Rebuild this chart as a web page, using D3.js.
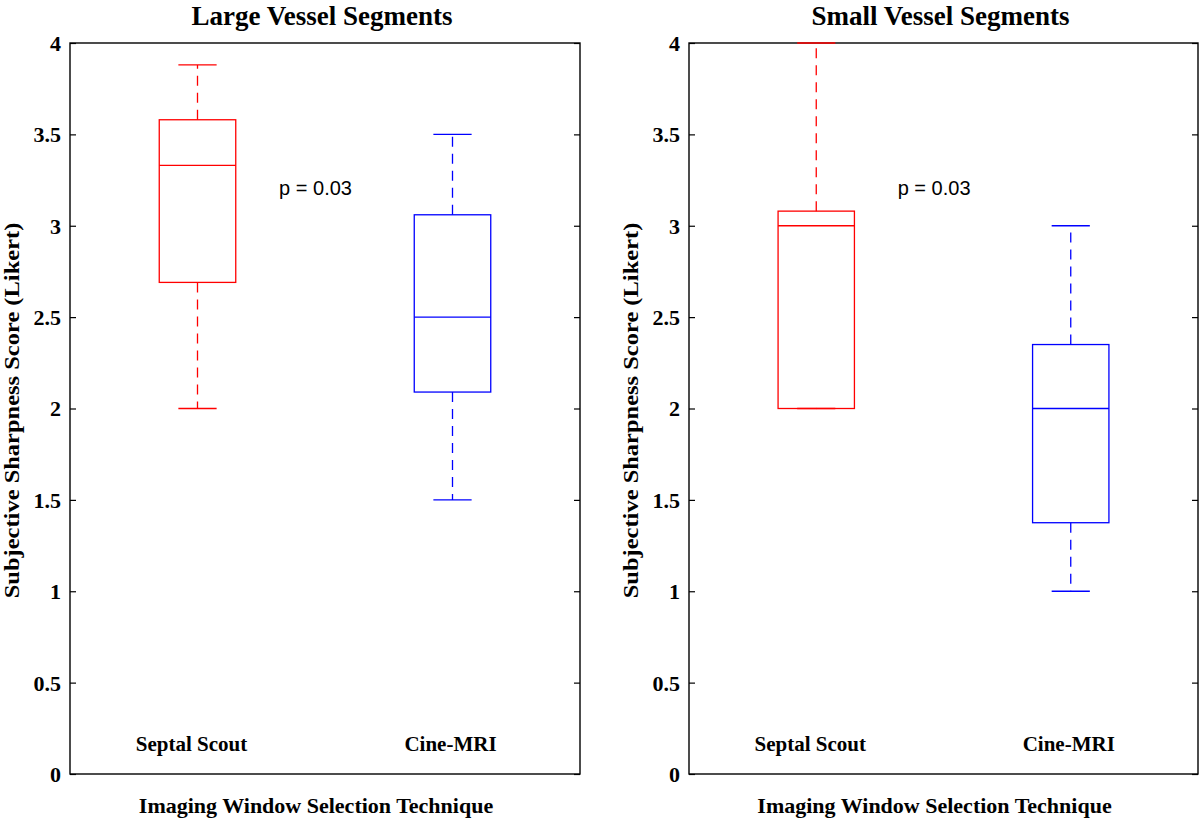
<!DOCTYPE html>
<html>
<head>
<meta charset="utf-8">
<script src="https://cdn.jsdelivr.net/npm/d3@7"></script>
<style>
  html, body { margin: 0; padding: 0; background: #fff; }
  svg { display: block; }
</style>
</head>
<body>
<svg id="chart" width="1200" height="818"></svg>
<script>
// ---- data ----
const panelTitles = ["Large Vessel Segments", "Small Vessel Segments"];
const groups = ["Septal Scout", "Cine-MRI"];
const groupColors = ["#ff0000", "#0000ff"];
// [lower whisker, Q1, median, Q3, upper whisker]
const largeSeptal = [2.0, 2.69, 3.33, 3.58, 3.88];
const largeCine   = [1.5, 2.09, 2.5, 3.06, 3.5];
const smallSeptal = [2.0, 2.0, 3.0, 3.08, 4.0];
const smallCine   = [1.0, 1.375, 2.0, 2.35, 3.0];
const yTickValues = [0, 0.5, 1, 1.5, 2, 2.5, 3, 3.5, 4];
const yTickLabels = ["0", "0.5", "1", "1.5", "2", "2.5", "3", "3.5", "4"];
const pLabels = ["p = 0.03", "p = 0.03"];
const pPosition = [1.32, 3.17];
const yLabel = "Subjective Sharpness Score (Likert)";
const xLabel = "Imaging Window Selection Technique";

const panelData = [[largeSeptal, largeCine], [smallSeptal, smallCine]];

// ---- layout ----
const frames = [
  { x0: 70, x1: 580 },
  { x0: 689, x1: 1198 }
];
const yTop = 43, yBottom = 774;
const serif = "'Liberation Serif', 'Times New Roman', serif";
const sans = "'Liberation Sans', Arial, Helvetica, sans-serif";

const svg = d3.select("#chart");

frames.forEach((f, pi) => {
  const g = svg.append("g");
  const x = d3.scaleLinear().domain([0.5, 2.5]).range([f.x0, f.x1]);
  const y = d3.scaleLinear().domain([0, 4]).range([yBottom, yTop]);
  const boxHalf = 0.15, capHalf = 0.075;

  // left axis ticks (inward) and labels
  const leftAxis = d3.axisLeft(y).tickValues(yTickValues)
    .tickFormat((d, i) => yTickLabels[i]).tickSizeInner(-6).tickSizeOuter(0).tickPadding(9);
  const la = g.append("g").attr("transform", `translate(${f.x0},0)`).call(leftAxis);
  la.select(".domain").remove();
  la.selectAll("line").attr("stroke", "#000").attr("stroke-width", 1.2);
  la.selectAll("text").attr("font-family", serif).attr("font-weight", "bold")
    .attr("font-size", 22).attr("fill", "#000").attr("dy", "0.34em");

  const rightAxis = d3.axisRight(y).tickValues(yTickValues).tickFormat("")
    .tickSizeInner(-6).tickSizeOuter(0);
  const ra = g.append("g").attr("transform", `translate(${f.x1},0)`).call(rightAxis);
  ra.select(".domain").remove();
  ra.selectAll("line").attr("stroke", "#000").attr("stroke-width", 1.2);

  // frame
  g.append("rect").attr("x", f.x0).attr("y", yTop)
    .attr("width", f.x1 - f.x0).attr("height", yBottom - yTop)
    .attr("fill", "none").attr("stroke", "#000").attr("stroke-width", 1.4);

  // boxes
  panelData[pi].forEach((s, gi) => {
    const c = gi + 1;
    const col = groupColors[gi];
    const bg = g.append("g").attr("stroke", col).attr("stroke-width", 1.3).attr("fill", "none");
    // whiskers
    bg.append("line").attr("x1", x(c)).attr("x2", x(c)).attr("y1", y(s[3])).attr("y2", y(s[4]))
      .attr("stroke-dasharray", "10,7");
    bg.append("line").attr("x1", x(c)).attr("x2", x(c)).attr("y1", y(s[1])).attr("y2", y(s[0]))
      .attr("stroke-dasharray", "10,7");
    // caps
    bg.append("line").attr("x1", x(c - capHalf)).attr("x2", x(c + capHalf)).attr("y1", y(s[4])).attr("y2", y(s[4]));
    bg.append("line").attr("x1", x(c - capHalf)).attr("x2", x(c + capHalf)).attr("y1", y(s[0])).attr("y2", y(s[0]));
    // box
    bg.append("rect").attr("x", x(c - boxHalf)).attr("y", y(s[3]))
      .attr("width", x(c + boxHalf) - x(c - boxHalf)).attr("height", y(s[1]) - y(s[3]));
    // median
    bg.append("line").attr("x1", x(c - boxHalf)).attr("x2", x(c + boxHalf)).attr("y1", y(s[2])).attr("y2", y(s[2]));

    // group label
    g.append("text").attr("x", x(c) + (gi === 0 ? -6 : -2)).attr("y", 751)
      .attr("text-anchor", "middle").attr("font-family", serif).attr("font-weight", "bold")
      .attr("font-size", 21).attr("fill", "#000").text(groups[gi]);
  });

  // p label
  g.append("text").attr("x", x(pPosition[0])).attr("y", y(pPosition[1]))
    .attr("font-family", sans).attr("font-size", 20).attr("fill", "#000").text(pLabels[pi]);

  // title
  g.append("text").attr("x", (f.x0 + f.x1) / 2 - 3).attr("y", 25).attr("text-anchor", "middle")
    .attr("font-family", serif).attr("font-weight", "bold").attr("font-size", 27)
    .attr("fill", "#000").text(panelTitles[pi]);

  // x label
  g.append("text").attr("x", (f.x0 + f.x1) / 2 - 9).attr("y", 813).attr("text-anchor", "middle")
    .attr("font-family", serif).attr("font-weight", "bold").attr("font-size", 22)
    .attr("fill", "#000").text(xLabel);

  // y label
  const ylx = f.x0 - 51;
  g.append("text").attr("transform", `translate(${ylx},${(yTop + yBottom) / 2 + 2}) rotate(-90) scale(1,0.85)`)
    .attr("text-anchor", "middle").attr("font-family", serif).attr("font-weight", "bold")
    .attr("font-size", 24.5).attr("fill", "#000").text(yLabel);
});
</script>
</body>
</html>
